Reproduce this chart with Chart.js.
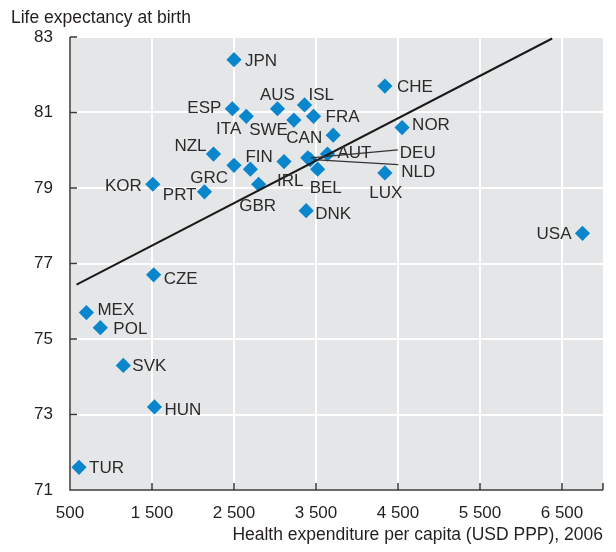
<!DOCTYPE html>
<html>
<head>
<meta charset="utf-8">
<script src="https://cdn.jsdelivr.net/npm/chart.js@4.4.1/dist/chart.umd.min.js"></script>
<style>
  html, body { margin: 0; padding: 0; background: #fff; }
  #wrap { width: 616px; height: 552px; }
</style>
</head>
<body>
<div id="wrap"><canvas id="chart"></canvas></div>
<script>
// --- data ---
const countries = ['JPN','ESP','ITA','AUS','ISL','SWE','FRA','CAN','CHE','NOR',
                   'NZL','FIN','GRC','IRL','AUT','DEU','NLD','BEL','GBR','DNK',
                   'KOR','PRT','LUX','USA','CZE','MEX','POL','SVK','HUN','TUR'];
const spending  = [2500, 2480, 2650, 3030, 3360, 3230, 3470, 3710, 4340, 4550,
                   2250, 2700, 2500, 3110, 3640, 3400, 3430, 3520, 2800, 3380,
                   1510, 2140, 4340, 6750, 1520, 700, 870, 1150, 1530, 610];
const lifeExp   = [82.4, 81.1, 80.9, 81.1, 81.2, 80.8, 80.9, 80.4, 81.7, 80.6,
                   79.9, 79.5, 79.6, 79.7, 79.9, 79.8, 79.75, 79.5, 79.1, 78.4,
                   79.1, 78.9, 79.4, 77.8, 76.7, 75.7, 75.3, 74.3, 73.2, 71.6];
// fitted line end points
const trendSpending = [580, 6380];
const trendLife     = [76.44, 82.96];
const xTicks = [500, 1500, 2500, 3500, 4500, 5500, 6500];
const yTicks = [71, 73, 75, 77, 79, 81, 83];

// label placement: [dx, dy, align, leader?]
const labelPos = {
  JPN: [11, 0, 'left'],   ESP: [-11, -2, 'right'], ITA: [-5, 12, 'right'],
  AUS: [0, -15, 'center'], ISL: [4, -11, 'left'],  SWE: [-6, 9, 'right'],
  FRA: [12, 0, 'left'],   CAN: [-11, 2, 'right'],  CHE: [12, 0, 'left'],
  NOR: [10, -4, 'left'],  NZL: [-7, -9, 'right'],  FIN: [-5, -13, 'left'],
  GRC: [-6, 12, 'right'], IRL: [-7, 18, 'left'],   AUT: [10, -2, 'left'],
  DEU: [92, -6, 'left', [-2, -2]], NLD: [91, 11, 'left', [-3, -6]],
  BEL: [-8, 18, 'left'],  GBR: [-1, 21, 'center'], DNK: [9, 2, 'left'],
  KOR: [-11, 1, 'right'], PRT: [-8, 2, 'right'],   LUX: [1, 19, 'center'],
  USA: [-11, 0, 'right'], CZE: [10, 3, 'left'],    MEX: [11, -4, 'left'],
  POL: [13, 0, 'left'],   SVK: [9, 0, 'left'],     HUN: [10, 2, 'left'],
  TUR: [10, 0, 'left']
};

const FONT = 'Liberation Sans, Arial, sans-serif';
const TEXT = '#231f20';
const AXIS = '#3a3a3a';

const fmt = v => v >= 1000 ? Math.floor(v / 1000) + ' ' + String(v % 1000).padStart(3, '0') : String(v);

// grey plot background
const plotBg = {
  id: 'plotBg',
  beforeDraw(chart) {
    const { ctx, chartArea: a } = chart;
    ctx.save();
    ctx.fillStyle = '#e5e6e7';
    ctx.fillRect(a.left, a.top, a.right - a.left, a.bottom - a.top);
    ctx.restore();
  }
};

// axis lines with inward ticks
const axes = {
  id: 'axes',
  beforeDatasetsDraw(chart) {
    const { ctx, chartArea: a, scales } = chart;
    ctx.save();
    ctx.strokeStyle = AXIS;
    ctx.lineWidth = 1.5;
    ctx.beginPath();
    ctx.moveTo(a.left, a.top);
    ctx.lineTo(a.left, a.bottom);
    ctx.lineTo(a.right, a.bottom);
    yTicks.forEach(v => {
      const y = scales.y.getPixelForValue(v);
      ctx.moveTo(a.left, y); ctx.lineTo(a.left + 7, y);
    });
    xTicks.concat([scales.x.max]).forEach(v => {
      const x = scales.x.getPixelForValue(v);
      ctx.moveTo(x, a.bottom); ctx.lineTo(x, a.bottom - 7);
    });
    ctx.stroke();
    ctx.restore();
  }
};

// country labels + leader lines
const countryLabels = {
  id: 'countryLabels',
  afterDatasetsDraw(chart) {
    const { ctx } = chart;
    const pts = chart.getDatasetMeta(0).data;
    ctx.save();
    ctx.font = '17px ' + FONT;
    ctx.fillStyle = '#2b2b2b';
    ctx.textBaseline = 'alphabetic';
    pts.forEach((p, i) => {
      const pos = labelPos[countries[i]];
      const lx = p.x + pos[0], ly = p.y + pos[1];
      if (pos[3]) {
        ctx.strokeStyle = '#333';
        ctx.lineWidth = 1.2;
        ctx.beginPath();
        ctx.moveTo(p.x + 3, p.y);
        ctx.lineTo(lx + pos[3][0], ly + pos[3][1]);
        ctx.stroke();
      }
      ctx.textAlign = pos[2];
      ctx.fillText(countries[i], lx, ly + 6);
    });
    ctx.restore();
  }
};

new Chart(document.getElementById('chart'), {
  type: 'scatter',
  data: {
    datasets: [{
      data: countries.map((c, i) => ({ x: spending[i], y: lifeExp[i] })),
      pointStyle: 'rectRot',
      pointRadius: 7.6,
      pointHoverRadius: 7.6,
      backgroundColor: '#0a86cc',
      borderWidth: 0,
      order: 1
    }, {
      data: trendSpending.map((x, i) => ({ x, y: trendLife[i] })),
      showLine: true,
      borderColor: '#1a1a1a',
      borderWidth: 2,
      pointRadius: 0,
      order: 0
    }]
  },
  options: {
    responsive: true,
    maintainAspectRatio: false,
    animation: false,
    devicePixelRatio: 1,
    layout: { padding: { left: 11, right: 13, top: 0, bottom: 0 } },
    plugins: {
      legend: { display: false },
      tooltip: { enabled: false },
      title: {
        display: true,
        text: 'Life expectancy at birth',
        align: 'start',
        color: TEXT,
        font: { family: FONT, size: 17.5, weight: 'normal' },
        padding: { top: 8, bottom: 8 }
      }
    },
    scales: {
      x: {
        type: 'linear',
        min: 500, max: 7000,
        afterBuildTicks: s => { s.ticks = xTicks.map(v => ({ value: v })); },
        afterFit: s => { s.height = 62; },
        grid: { color: '#fff', lineWidth: 2, drawTicks: false },
        border: { display: false },
        ticks: { padding: 13, color: TEXT, font: { family: FONT, size: 17 }, callback: v => fmt(v), maxRotation: 0 },
        title: {
          display: true,
          text: 'Health expenditure per capita (USD PPP), 2006',
          align: 'end',
          color: TEXT,
          font: { family: FONT, size: 17.5 },
          padding: { top: 0, bottom: 6 }
        }
      },
      y: {
        min: 71, max: 83,
        afterBuildTicks: s => { s.ticks = yTicks.map(v => ({ value: v })); },
        afterFit: s => { s.width = 59; },
        grid: { color: '#fff', lineWidth: 2, drawTicks: false },
        border: { display: false },
        ticks: { padding: 17, color: TEXT, font: { family: FONT, size: 17 } }
      }
    }
  },
  plugins: [plotBg, axes, countryLabels]
});
</script>
</body>
</html>
